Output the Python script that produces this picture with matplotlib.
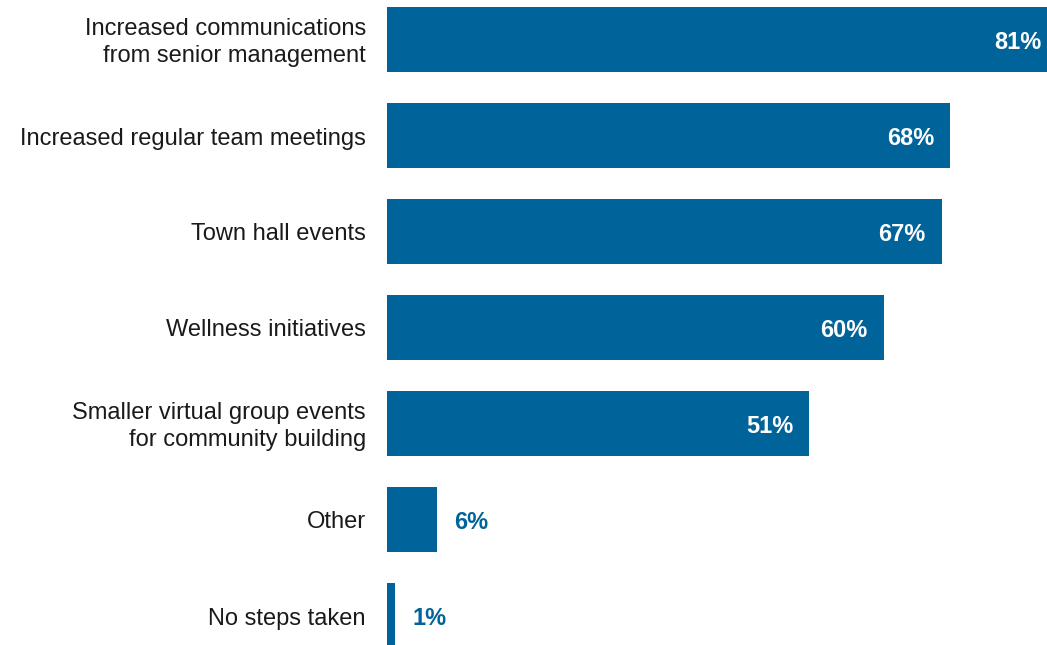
import matplotlib
matplotlib.use("Agg")
import matplotlib.pyplot as plt
from matplotlib.transforms import offset_copy

plt.rcParams['font.family'] = ['Liberation Sans', 'DejaVu Sans']

categories = [
    "Increased communications\nfrom senior management",
    "Increased regular team meetings",
    "Town hall events",
    "Wellness initiatives",
    "Smaller virtual group events\nfor community building",
    "Other",
    "No steps taken",
]
values = [81, 68, 67, 60, 51, 6, 1]

BLUE = "#00639A"
W, H = 1047, 645
fig = plt.figure(figsize=(W / 100, H / 100), dpi=100)
ax = fig.add_axes([387 / W, 0, (W - 387) / W, 1])

ypos = list(range(len(values)))
ax.barh(ypos, values, height=0.68, color=BLUE, edgecolor="none")

ax.set_xlim(0, (W - 387) / 8.28)
ax.set_ylim((H - 39.5) / 96, -39.5 / 96)
ax.axis("off")

# category labels to the left of the bars
lab_tr = offset_copy(ax.transData, fig=fig, x=-21, y=-3, units="dots")
for y, c in zip(ypos, categories):
    ax.text(0, y, c, transform=lab_tr, ha="right", va="center",
            fontsize=17, color="#1a1a1a", linespacing=1.35)

# value labels: inside long bars, outside short ones
in_tr = offset_copy(ax.transData, fig=fig, x=-16, y=-3, units="dots")
out_tr = offset_copy(ax.transData, fig=fig, x=17, y=-3, units="dots")
for y, v in zip(ypos, values):
    if v >= 20:
        ax.text(v, y, f"{v}%", transform=in_tr, ha="right", va="center",
                fontsize=17, fontweight="bold", color="white", clip_on=False)
    else:
        ax.text(v, y, f"{v}%", transform=out_tr, ha="left", va="center",
                fontsize=17, fontweight="bold", color=BLUE)

fig.savefig("out.png", dpi=100)
